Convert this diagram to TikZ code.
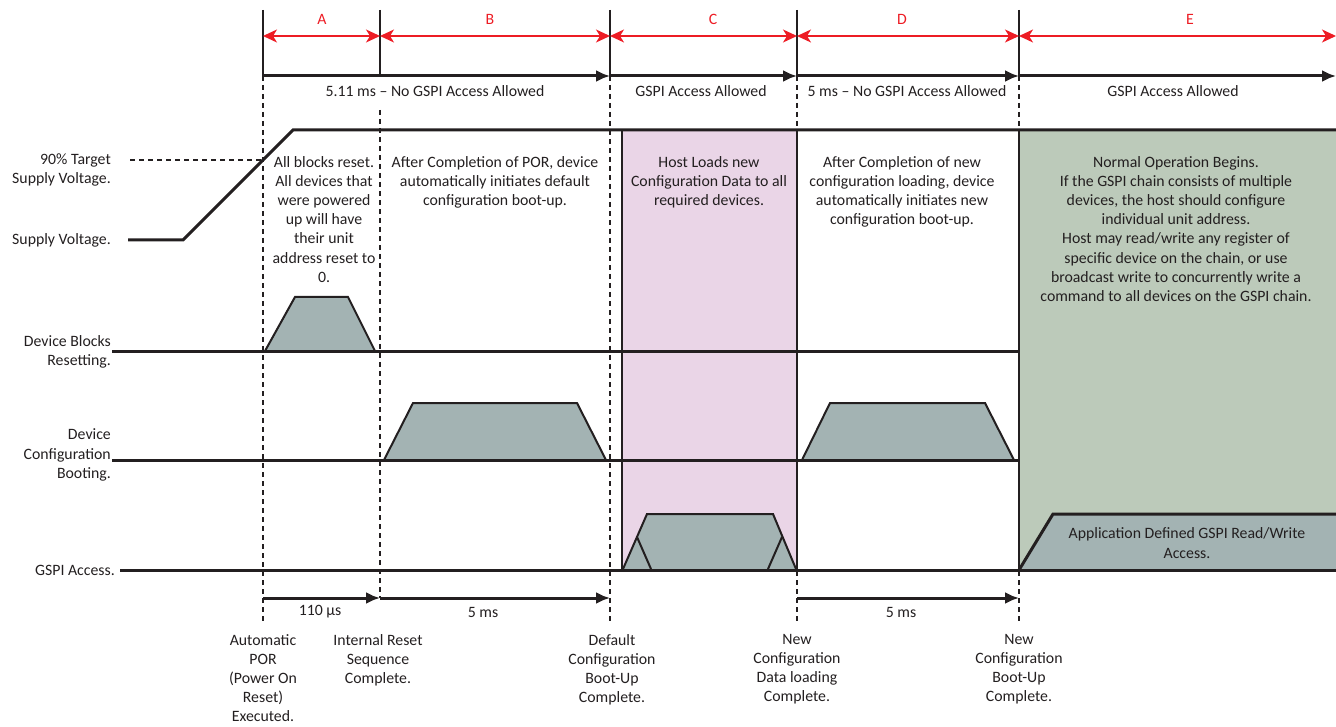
\documentclass[tikz,border=0pt]{standalone}
\usepackage{fontspec}
\setmainfont{Carlito}
\usetikzlibrary{arrows.meta,positioning}
\definecolor{ink}{HTML}{231F20}
\definecolor{rmark}{HTML}{ED1C24}
\definecolor{pinkfill}{HTML}{EAD5E7}
\definecolor{greenfill}{HTML}{BCCABA}
\definecolor{busyfill}{HTML}{A3B3B3}
\begin{document}
\begin{tikzpicture}[x=1pt, y=-1pt, >=Latex,
  every node/.style={align=center, inner sep=0pt, font=\fontsize{15.8}{19.2}\selectfont, text=ink},
  sig/.style={draw=ink, line width=3pt},
  edge/.style={draw=ink, line width=2.5pt},
  guide/.style={draw=ink, line width=1.1pt, dash pattern=on 5pt off 4pt},
  busy/.style={draw=ink, line width=2pt, fill=busyfill, line join=miter},
  span/.style={draw=ink, line width=3pt, -{Latex[length=14pt,width=12pt]}},
  phase/.style={draw=rmark, line width=1.5pt, {Stealth[length=14pt,width=13pt,inset=4pt]}-{Stealth[length=14pt,width=13pt,inset=4pt]}},
  tag/.style={anchor=east, align=right}]
\useasboundingbox (0,0) rectangle (1336,727);
% time markers
\coordinate (por) at (263,0);
\coordinate (rst) at (380,0);
\coordinate (dflt) at (610,0);
\coordinate (load) at (797,0);
\coordinate (boot) at (1019,0);
\coordinate (rend) at (1336,0);
% rows
\coordinate (yTop) at (0,10);
\coordinate (yPhase) at (0,36);
\coordinate (yAcc) at (0,76);
\coordinate (yHigh) at (0,130);
\coordinate (yGspi) at (0,570);
\coordinate (ySpan) at (0,598);
\coordinate (yEnd) at (0,623);

% shaded phases
\fill[pinkfill] (622,130) rectangle (load |- yGspi);
\fill[greenfill] (boot |- yHigh) rectangle (rend |- yGspi);

% guides
\foreach \m in {por,dflt,load,boot}
  \draw[guide] (\m |- yAcc) -- (\m |- yEnd);
\draw[guide] (rst |- 0,110) -- (rst |- ySpan);
\draw[guide] (130,160) -- (por |- 0,160);

% phase ruler
\foreach \m in {por,rst,dflt,load,boot}
  \draw[ink, line width=2pt] (\m |- yTop) -- (\m |- yAcc);
\draw[phase] (por |- yPhase) -- (rst |- yPhase);
\draw[phase] (rst |- yPhase) -- (dflt |- yPhase);
\draw[phase] (dflt |- yPhase) -- (load |- yPhase);
\draw[phase] (load |- yPhase) -- (boot |- yPhase);
\draw[phase] (boot |- yPhase) -- (rend |- yPhase);
\node[text=rmark] (lblA) at (322,19) {A};
\node[text=rmark] (lblB) at (490,19) {B};
\node[text=rmark] (lblC) at (713,19) {C};
\node[text=rmark] (lblD) at (902,19) {D};
\node[text=rmark] (lblE) at (1190,19) {E};

% access ruler
\draw[span] (por |- yAcc) -- (dflt |- yAcc);
\draw[span] (dflt |- yAcc) -- (load |- yAcc);
\draw[span] (load |- yAcc) -- (boot |- yAcc);
\draw[span] (boot |- yAcc) -- (rend |- yAcc);
\node (accAB) at (435,91) {5.11 ms -- No GSPI Access Allowed};
\node (accC) at (701,91) {GSPI Access Allowed};
\node (accD) at (907,91) {5 ms -- No GSPI Access Allowed};
\node (accE) at (1173,91) {GSPI Access Allowed};

% busy pulses
\filldraw[busy] (265,351) -- (295,297) -- (348,297) -- (375,351);
\filldraw[busy] (384,460) -- (413,403) -- (577,403) -- (606,460);
\filldraw[busy] (802,460) -- (830,403) -- (985,403) -- (1014,460);
\filldraw[busy] (623,569) -- (647,514) -- (773,514) -- (796,569);
\draw[busy] (637,537) -- (651,569) (782,537) -- (768,569);
\fill[busyfill] (boot |- yGspi) -- (1053,514) -- (rend |- 0,514) -- (rend |- yGspi) -- cycle;
\draw[sig] (boot |- yGspi) -- (1053,514) -- (rend |- 0,514);

% signals
\draw[sig] (128,240) -- (183,240) -- (293,130) -- (rend |- yHigh);
\draw[sig] (112,351) -- (boot |- 0,351);
\draw[sig] (112,460) -- (boot |- 0,460);
\draw[sig] (120,570) -- (rend |- yGspi);
\draw[edge] (622,130) -- (622,570);
\draw[edge] (load |- yHigh) -- (load |- yGspi);
\draw[edge] (boot |- yHigh) -- (boot |- yGspi);

% signal names
\node[tag] (n90) at (111,170) {90\% Target\\Supply Voltage.};
\node[tag] (nSup) at (111,240) {Supply Voltage.};
\node[tag] (nRst) at (111,352) {Device Blocks\\Resetting.};
\node[tag] (nCfg) at (111,455) {Device\\Configuration\\Booting.};
\node[tag] (nGspi) at (115,570) {GSPI Access.};

% phase notes
\node[anchor=north] (noteA) at (324,156) {All blocks reset.\\All devices that\\were powered\\up will have\\their unit\\address reset to\\0.};
\node[anchor=north] (noteB) at (495,156) {After Completion of POR, device\\automatically initiates default\\configuration boot-up.};
\node[anchor=north] (noteC) at (709,156) {Host Loads new\\Configuration Data to all\\required devices.};
\node[anchor=north] (noteD) at (902,156) {After Completion of new\\configuration loading, device\\automatically initiates new\\configuration boot-up.};
\node[anchor=north] (noteE) at (1176,156) {Normal Operation Begins.\\If the GSPI chain consists of multiple\\devices, the host should configure\\individual unit address.\\Host may read/write any register of\\specific device on the chain, or use\\broadcast write to concurrently write a\\command to all devices on the GSPI chain.};
\node (noteApp) at (1187,543) {Application Defined GSPI Read/Write\\Access.};

% duration ruler
\draw[span] (por |- ySpan) -- (rst |- ySpan);
\draw[span] (rst |- ySpan) -- (dflt |- ySpan);
\draw[span] (load |- ySpan) -- (boot |- ySpan);
\node (d110) at (320,612) {110 µs};
\node (d5a) at (483,612) {5 ms};
\node (d5b) at (901,612) {5 ms};

% events
\node[anchor=north] (evPor) at (263,634) {Automatic\\POR\\(Power On\\Reset)\\Executed.};
\node[anchor=north] (evRst) at (378,634) {Internal Reset\\Sequence\\Complete.};
\node[anchor=north] (evDflt) at (612,634) {Default\\Configuration\\Boot-Up\\Complete.};
\node[anchor=north] (evLoad) at (797,634) {New\\Configuration\\Data loading\\Complete.};
\node[anchor=north] (evBoot) at (1019,634) {New\\Configuration\\Boot-Up\\Complete.};
\end{tikzpicture}
\end{document}
